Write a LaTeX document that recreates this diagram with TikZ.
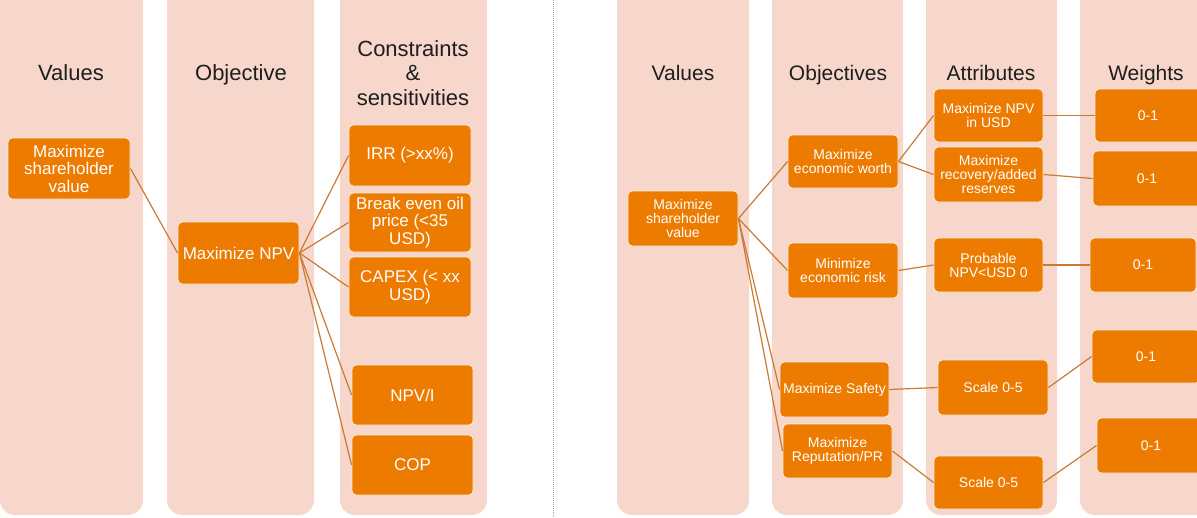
\documentclass[tikz,border=0pt]{standalone}
\usepackage{fontspec}
\setmainfont{Liberation Sans}
\definecolor{colfill}{HTML}{F7D7CB}
\definecolor{boxfill}{HTML}{ED7B00}
\definecolor{linkc}{HTML}{C97A35}
\definecolor{headc}{HTML}{1E1E1E}
\tikzset{
  column/.style={fill=colfill, draw=none, rounded corners=15pt},
  head/.style={text=headc, align=center, inner sep=0pt, font=\fontsize{22}{24.5}\selectfont},
  rhead/.style={text=headc, anchor=base, inner sep=0pt, font=\fontsize{21}{24}\selectfont},
  lhead/.style={text=headc, anchor=base, inner sep=0pt, font=\fontsize{22}{24}\selectfont},
  box/.style={fill=boxfill, draw=white!85!boxfill, line width=0.9pt, rounded corners=4pt,
    text=white, align=center, inner sep=0pt, font=\fontsize{17}{17.5}\selectfont},
  sbox/.style={box, font=\fontsize{14}{14}\selectfont},
  link/.style={draw=linkc, line width=1.2pt},
}
\begin{document}
\begin{tikzpicture}[x=1pt,y=-1pt]
\useasboundingbox (0,0) rectangle (1197,517);
\clip (0,0) rectangle (1197,517);
% columns left
\fill[column] (0,-20) rectangle (143,515);
\fill[column] (167,-20) rectangle (314,515);
\fill[column] (340,-20) rectangle (487,515);
% columns right
\fill[column] (617,-20) rectangle (749,515);
\fill[column] (772,-20) rectangle (903,515);
\fill[column] (926,-20) rectangle (1057,515);
\fill[column] (1080,-20) rectangle (1220,515);
% separator
\coordinate (septop) at (553,0);
\coordinate (sepbot) at (553,517);
\draw[gray!70, line width=0.8pt, dash pattern=on 1pt off 1pt] (septop) -- (sepbot);
% headers left
\node[lhead] (hl1) at (71,80) {Values};
\node[lhead] (hl2) at (241,80) {Objective};
\node[head] (hl3) at (413,73) {Constraints\\\&\\sensitivities};
% headers right
\node[rhead] (hr1) at (683,80) {Values};
\node[rhead] (hr2) at (838,80) {Objectives};
\node[rhead] (hr3) at (991,80) {Attributes};
\node[rhead] (hr4) at (1146,80) {Weights};
% left boxes
\node[box, minimum width=122pt, minimum height=61pt] (lv) at (69,168.5) {Maximize\\shareholder\\value};
\node[box, minimum width=121pt, minimum height=62pt] (lo) at (238.5,253) {Maximize NPV};
\node[box, minimum width=122pt, minimum height=61pt] (c1) at (410,155.5) {IRR (>xx\%)};
\node[box, minimum width=122pt, minimum height=59pt] (c2) at (410,222.5) {Break even oil\\price (<35\\USD)};
\node[box, minimum width=122pt, minimum height=60pt] (c3) at (410,287) {CAPEX (< xx\\USD)};
\node[box, minimum width=121pt, minimum height=60pt] (c4) at (412.5,395) {NPV/I};
\node[box, minimum width=121pt, minimum height=60pt] (c5) at (412.5,465) {COP};
\draw[link] (lv.east) -- (lo.west);
\foreach \c in {c1,c2,c3,c4,c5} {\draw[link] (lo.east) -- (\c.west);}
% right boxes
\node[sbox, minimum width=110pt, minimum height=55pt] (rv) at (683,218.5) {Maximize\\shareholder\\value};
\node[sbox, minimum width=110pt, minimum height=53pt] (o1) at (843,161.5) {Maximize\\economic worth};
\node[sbox, minimum width=110pt, minimum height=55pt] (o2) at (843,270.5) {Minimize\\economic risk};
\node[sbox, minimum width=109pt, minimum height=55pt] (o3) at (834.5,389.5) {Maximize Safety};
\node[sbox, minimum width=109pt, minimum height=54pt] (o4) at (837.5,451) {Maximize\\Reputation/PR};
\node[sbox, minimum width=109pt, minimum height=53pt] (a1) at (988.5,115.5) {Maximize NPV\\in USD};
\node[sbox, minimum width=109pt, minimum height=55pt] (a2) at (988.5,174.5) {Maximize\\recovery/added\\reserves};
\node[sbox, minimum width=109pt, minimum height=54pt] (a3) at (988.5,265) {Probable\\NPV<USD 0};
\node[sbox, minimum width=110pt, minimum height=55pt] (a4) at (993,387.5) {Scale 0-5};
\node[sbox, minimum width=109pt, minimum height=53pt] (a5) at (988.5,482.5) {Scale 0-5};
\node[sbox, minimum width=106pt, minimum height=53pt] (w1) at (1148,115.5) {0-1};
\node[sbox, minimum width=108pt, minimum height=55pt] (w2) at (1147,178.5) {0-1};
\node[sbox, minimum width=106pt, minimum height=54pt] (w3) at (1143,265) {0-1};
\node[sbox, minimum width=108pt, minimum height=53pt] (w4) at (1146,356.5) {0-1};
\node[sbox, minimum width=108pt, minimum height=55pt] (w5) at (1151,445.5) {0-1};
\foreach \o in {o1,o2,o3,o4} {\draw[link] (rv.east) -- (\o.west);}
\draw[link] (o1.east) -- (a1.west);
\draw[link] (o1.east) -- (a2.west);
\draw[link] (o2.east) -- (a3.west);
\draw[link] (o3.east) -- (a4.west);
\draw[link] (o4.east) -- (a5.west);
\draw[link] (a1.east) -- (w1.west);
\draw[link] (a2.east) -- (w2.west);
\draw[link] (a3.east) -- (w3.west);
\draw[link] (a4.east) -- (w4.west);
\draw[link] (a5.east) -- (w5.west);
\end{tikzpicture}
\end{document}
